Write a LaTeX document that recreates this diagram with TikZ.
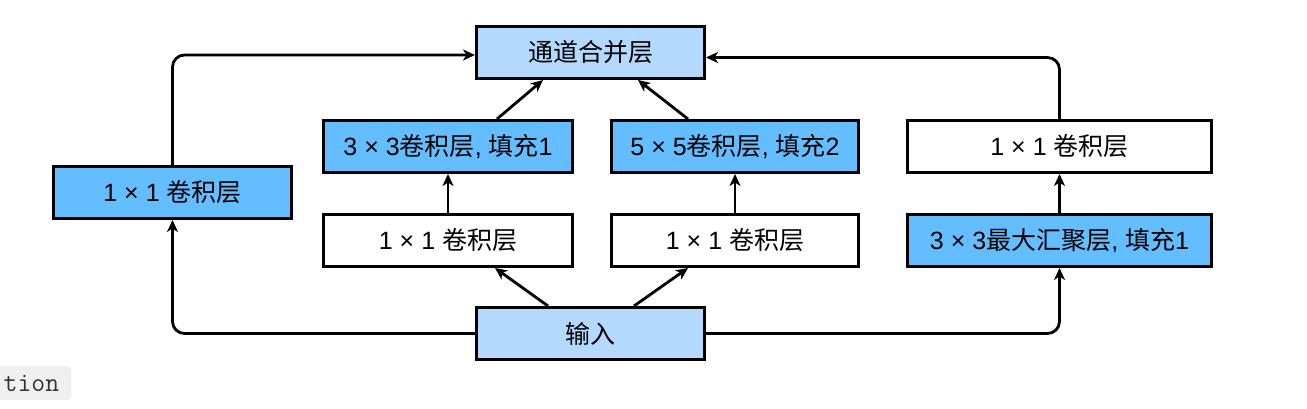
\documentclass[tikz,border=0pt]{standalone}
\usepackage{fontspec}
\setmainfont{Liberation Sans}
\newfontfamily\cjk{Noto Sans CJK SC}
\usetikzlibrary{arrows.meta}
\definecolor{lightblue}{HTML}{B3D9FF}
\definecolor{midblue}{HTML}{63BDFF}
\tikzset{
  box/.style={draw=black, line width=3pt, minimum height=52pt, inner sep=0pt,
    font=\fontsize{25}{28}\selectfont},
  arr/.style={draw=black, line width=2.8pt, rounded corners=12pt,
    -{Stealth[length=12pt,width=11pt,inset=3.5pt]}},
}
\begin{document}
\begin{tikzpicture}[x=1pt,y=-1pt]
\useasboundingbox (0,0) rectangle (1307,408);
\node[box, fill=lightblue, minimum width=228pt] (merge) at (590.5,52.5) {{\cjk 通道合并层}};
\node[box, fill=midblue, minimum width=249pt] (c3) at (448,146.5) {3 × 3{\cjk 卷积层}, {\cjk 填充}1};
\node[box, fill=midblue, minimum width=247pt] (c5) at (735,146.5) {5 × 5{\cjk 卷积层}, {\cjk 填充}2};
\node[box, fill=white, minimum width=304pt] (r1) at (1059.5,146.5) {1 × 1 {\cjk 卷积层}};
\node[box, fill=midblue, minimum width=238pt] (l1) at (172.5,192.5) {1 × 1 {\cjk 卷积层}};
\node[box, fill=white, minimum width=249pt] (m1) at (448,240.5) {1 × 1 {\cjk 卷积层}};
\node[box, fill=white, minimum width=247pt] (m2) at (735,240.5) {1 × 1 {\cjk 卷积层}};
\node[box, fill=midblue, minimum width=304pt] (pool) at (1059.5,240.5) {3 × 3{\cjk 最大汇聚层}, {\cjk 填充}1};
\node[box, fill=lightblue, minimum width=228pt] (input) at (590.5,333.5) {{\cjk 输入}};
\node[fill=black!6, rounded corners=4pt, minimum height=34pt, inner xsep=12pt, inner ysep=4pt,
  text=black!80, font=\ttfamily\fontsize{27}{28}\selectfont] (tion) at (31.5,383) {tion};
\draw[arr] (input.west) -| (l1.south);
\draw[arr] (l1.north) |- ([yshift=-2.5pt]merge.west);
\draw[arr] (input.east) -| (pool.south);
\draw[arr] (r1.north) |- ([yshift=-5pt]merge.east);
\draw[arr] ([xshift=-42.5pt]input.north) -- ([xshift=47pt]m1.south);
\draw[arr] ([xshift=43.5pt]input.north) -- ([xshift=-47pt]m2.south);
\draw[arr] (m1.north) -- (c3.south);
\draw[arr] (m2.north) -- (c5.south);
\draw[arr] (pool.north) -- (r1.south);
\draw[arr] ([xshift=49pt]c3.north) -- ([xshift=-47.5pt]merge.south);
\draw[arr] ([xshift=-47pt]c5.north) -- ([xshift=47.5pt]merge.south);
\end{tikzpicture}
\end{document}
